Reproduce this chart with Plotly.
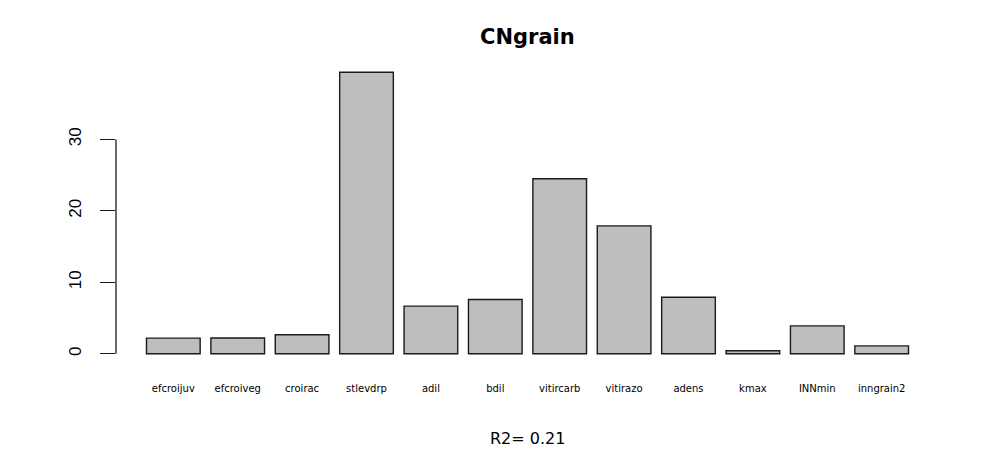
import plotly.graph_objects as go

categories = ["efcroijuv", "efcroiveg", "croirac", "stlevdrp", "adil", "bdil",
              "vitircarb", "vitirazo", "adens", "kmax", "INNmin", "inngrain2"]
values = [2.18, 2.2, 2.65, 39.4, 6.66, 7.6, 24.5, 17.9, 7.9, 0.42, 3.9, 1.1]
y_ticks = [0, 10, 20, 30]
title_text = "CNgrain"
subtitle_text = "R2= 0.21"

ymax = max(values)
yext = 0.04 * ymax

# the page body has an 8px default margin, so the figure is offset by 8px
off = 8
plot_h = 304

fig = go.Figure()
fig.add_trace(go.Bar(
    x=categories, y=values,
    marker=dict(color="#BEBEBE", line=dict(color="#1a1a1a", width=1.4)),
    hoverinfo="x+y",
))

fig.update_layout(
    width=997 - off, height=449 - off,
    paper_bgcolor="white", plot_bgcolor="white",
    margin=dict(l=116 - off, r=58, t=61 - off, b=84),
    bargap=1 - 1 / 1.2,
    showlegend=False,
    xaxis=dict(
        type="category",
        range=[-0.89, len(categories) - 1 + 0.89],
        showgrid=False, zeroline=False, showline=False,
        ticks="outside", ticklen=14, tickcolor="rgba(0,0,0,0)",
        tickfont=dict(family="DejaVu Sans", size=10, color="black"),
        tickangle=0,
    ),
    yaxis=dict(
        range=[-yext, ymax + yext],
        showgrid=False, zeroline=False, showline=False,
        tickvals=y_ticks, ticktext=[str(v) for v in y_ticks],
        ticks="outside", ticklen=15, tickwidth=1.3, tickcolor="#1a1a1a",
        tickangle=-90,
        tickfont=dict(family="Liberation Sans", size=17, color="black"),
        ticklabelstandoff=12,
    ),
    shapes=[dict(type="line", xref="paper", yref="y", x0=0, x1=0,
                 y0=y_ticks[0], y1=y_ticks[-1],
                 line=dict(color="#1a1a1a", width=1.3))],
    annotations=[
        dict(text="<b>" + title_text + "</b>", xref="paper", yref="paper",
             x=0.5, y=1 + (61 - 37) / plot_h, xanchor="center", yanchor="middle",
             showarrow=False, font=dict(family="DejaVu Sans", size=21, color="black")),
        dict(text=subtitle_text, xref="paper", yref="paper",
             x=0.5, y=-(438 - 365) / plot_h, xanchor="center", yanchor="middle",
             showarrow=False, font=dict(family="DejaVu Sans", size=16, color="black")),
    ],
)

fig.write_html("out.html")
